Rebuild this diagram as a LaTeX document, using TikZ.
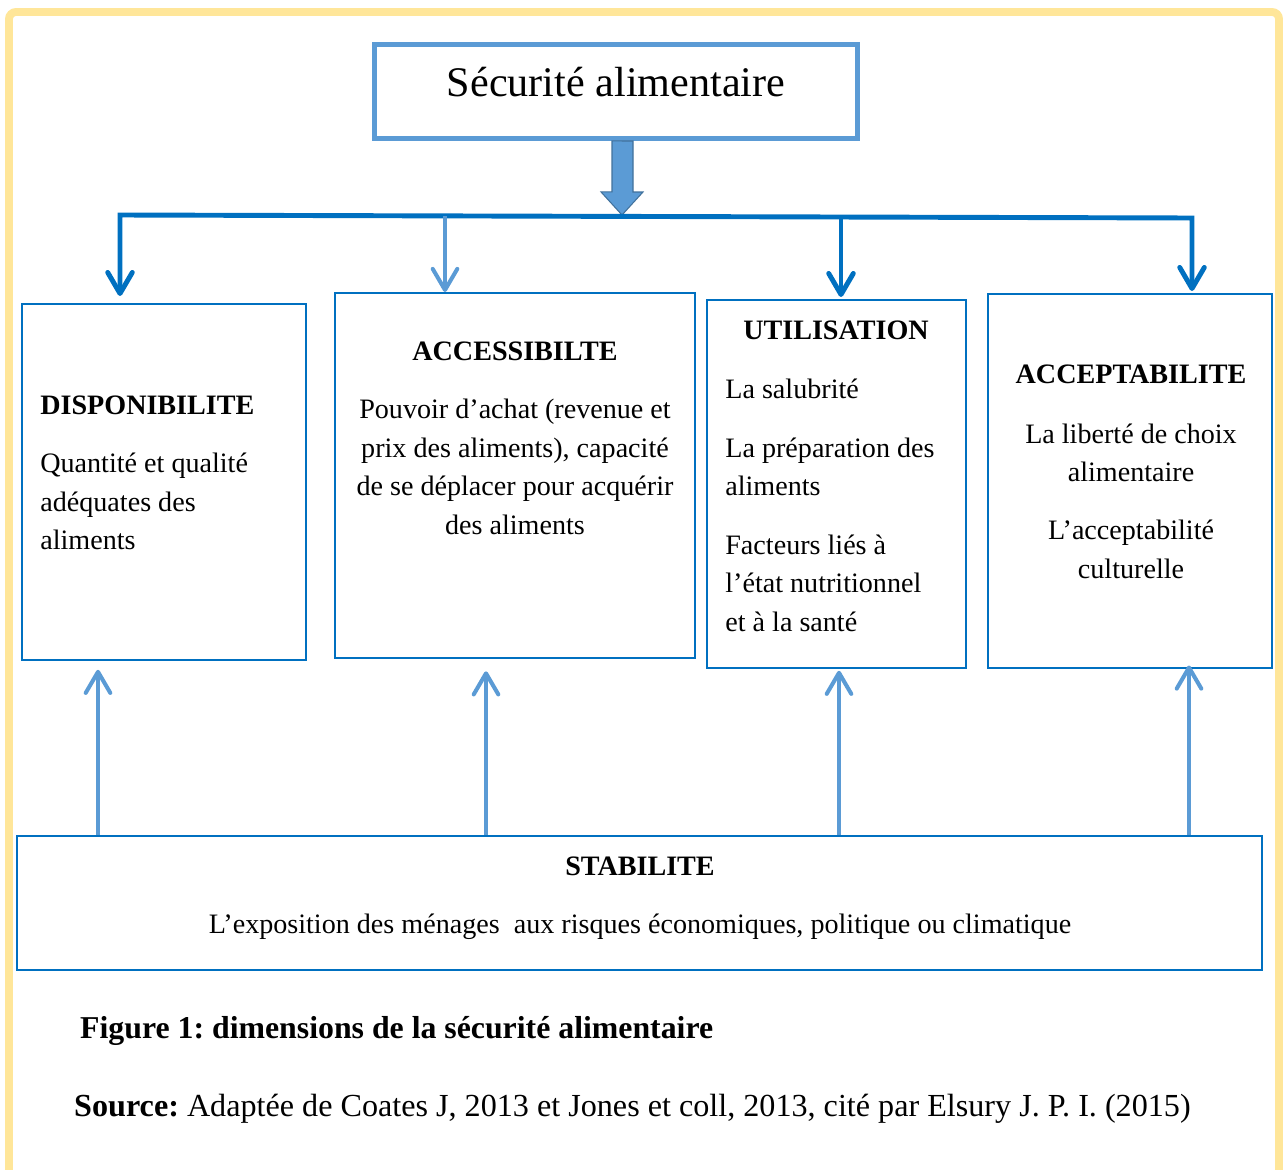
\documentclass[tikz,border=0pt]{standalone}
\usepackage{fontspec}
\setmainfont{Liberation Serif}
\usetikzlibrary{arrows.meta}
\frenchspacing

\definecolor{frameyellow}{HTML}{FFE699}
\definecolor{linkblue}{HTML}{0070C0}
\definecolor{paleblue}{HTML}{5B9BD5}
\definecolor{edgeblue}{HTML}{41719C}

\tikzset{
  frameline/.style={draw=frameyellow, line width=4.5pt, rounded corners=4pt},
  titlebox/.style={draw=paleblue, line width=2.8pt, inner sep=0pt,
    minimum width=9.66cm, minimum height=1.88cm, text height=12pt, text depth=5.8pt,
    font=\fontsize{24}{28}\selectfont},
  panel/.style={draw=linkblue, line width=1.2pt, inner sep=0pt},
  txt/.style={inner sep=0pt, font=\fontsize{16}{22.1}\selectfont},
  barb/.tip={Straight Barb[length=12pt,width=14pt,line cap=round,line join=round]},
  downlink/.style={draw=linkblue, line width=2.8pt, barb-barb},
  thinlink/.style={draw=paleblue, line width=2.3pt, -barb},
  uplink/.style={draw=paleblue, line width=2.3pt, -barb},
  bigarrow/.style={fill=paleblue, draw=edgeblue, line width=0.6pt, line join=miter}
}

\begin{document}
\begin{tikzpicture}[x=0.02cm,y=-0.02cm]
  \useasboundingbox (0,0) rectangle (1283,1169);
  % cadre jaune
  \draw[frameline] (9,1200) -- (9,12) -- (1279,12) -- (1279,1200);

  \node[titlebox] (top) at (616,91.5) {Sécurité alimentaire};

  % les quatre dimensions
  \node[panel, minimum width=5.68cm, minimum height=7.12cm] (dispo) at (164,482) {};
  \node[panel, minimum width=7.2cm, minimum height=7.3cm] (access) at (515,475.5) {};
  \node[panel, minimum width=5.18cm, minimum height=7.36cm] (util) at (836.5,484) {};
  \node[panel, minimum width=5.68cm, minimum height=7.48cm] (accept) at (1130,481) {};
  \node[panel, minimum width=24.9cm, minimum height=2.68cm] (stab) at (639.5,903) {};

  \node[txt, anchor=north west, align=left] (dispotxt) at (40,396)
    {\textbf{DISPONIBILITE}\\[10.5pt]Quantité et qualité\\adéquates des\\aliments};
  \node[txt, anchor=north, align=center] (accesstxt) at (515,342)
    {\textbf{ACCESSIBILTE}\\[10.5pt]Pouvoir d’achat (revenue et\\prix des aliments), capacité\\de se déplacer pour acquérir\\des aliments};
  \node[txt, anchor=north] (utilhead) at (836,321) {\textbf{UTILISATION}};
  \node[txt, anchor=north west, align=left] (utiltxt) at (725,379)
    {La salubrité\\[11pt]La préparation des\\aliments\\[11pt]Facteurs liés à\\l’état nutritionnel\\et à la santé};
  \node[txt, anchor=north, align=center] (accepttxt) at (1131,365)
    {\textbf{ACCEPTABILITE}\\[11.5pt]La liberté de choix\\alimentaire\\[11pt]L’acceptabilité\\culturelle};
  \node[txt, anchor=north, align=center] (stabtxt) at (640,857)
    {\textbf{STABILITE}\\[10.5pt]L’exposition des ménages\ \ aux risques économiques, politique ou climatique};

  % fleches du haut
  \coordinate (hub) at (622,215);
  \coordinate (hubL) at (120,215);
  \coordinate (hubR) at (1192,218);
  \coordinate (tap2) at (445,216);
  \coordinate (tap3) at (841,217);
  \draw[bigarrow] ([xshift=-0.08cm]top.south) -- ++(0,51) -- ++(-11,0) -- (hub)
    -- ++(21,-23) -- ++(-10,0) -- ++(0,-51) -- cycle;
  \draw[downlink] ([yshift=0.14cm]dispo.north -| hubL) -- (hubL) -- (hubR)
    -- ([yshift=0.04cm]accept.north -| hubR);
  \draw[thinlink] (tap2) -- (access.north -| tap2);
  \draw[downlink, -barb] (tap3) -- ([yshift=0.04cm]util.north -| tap3);

  % fleches du bas
  \foreach \x/\b/\s in {98/dispo/5pt,486/access/7pt,839/util/1pt,1189/accept/-2pt}
    \draw[uplink, shorten >=\s] (stab.north -| \x,0) -- (\b.south -| \x,0);

  \node[anchor=base west, font=\fontsize{18.1}{22}\selectfont\bfseries] (caption) at (74,1038)
    {Figure 1: dimensions de la sécurité alimentaire};
  \node[anchor=base west, font=\fontsize{18.3}{22}\selectfont] (source) at (68,1116)
    {\textbf{Source:} Adaptée de Coates J, 2013 et Jones et coll, 2013, cité par Elsury J. P. I. (2015)};
\end{tikzpicture}
\end{document}
